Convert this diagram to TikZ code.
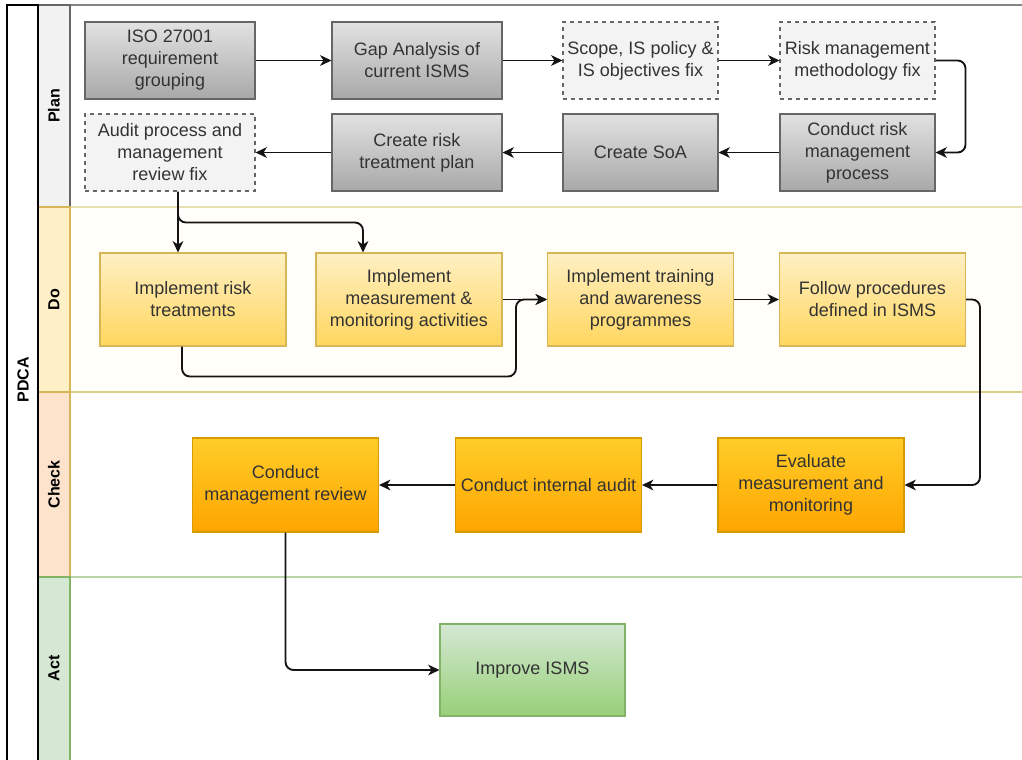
\documentclass[tikz,border=0pt]{standalone}
\usepackage{fontspec}
\setmainfont{Liberation Sans}
\usetikzlibrary{arrows.meta,calc}

\definecolor{txt}{HTML}{333333}
\definecolor{graytop}{HTML}{E2E2E2}
\definecolor{graybot}{HTML}{A8A8A8}
\definecolor{grayedge}{HTML}{666666}
\definecolor{dashfill}{HTML}{F3F3F3}
\definecolor{yeltop}{HTML}{FFF0C4}
\definecolor{yelbot}{HTML}{FFD65E}
\definecolor{yeledge}{HTML}{D6B656}
\definecolor{orgtop}{HTML}{FFCD28}
\definecolor{orgbot}{HTML}{FFA500}
\definecolor{orgedge}{HTML}{D79B00}
\definecolor{grntop}{HTML}{D5E8D4}
\definecolor{grnbot}{HTML}{97D077}
\definecolor{grnedge}{HTML}{82B366}
\definecolor{planlab}{HTML}{F2F2F2}
\definecolor{dolab}{HTML}{FFF0C8}
\definecolor{checklab}{HTML}{FDE2CC}
\definecolor{actlab}{HTML}{D5E8D4}
\definecolor{dobody}{HTML}{FFFEF9}
\definecolor{dosep}{HTML}{E6DFB4}
\definecolor{checksep}{HTML}{D8D08A}
\definecolor{actsep}{HTML}{B9D4A6}
\definecolor{wire}{HTML}{141414}

\begin{document}
\begin{tikzpicture}[x=0.75pt,y=-0.75pt,
  boxtext/.style={align=center, inner sep=0pt, text=txt,
    font=\fontsize{13.5pt}{16.5pt}\selectfont},
  graybox/.style={boxtext, draw=grayedge, line width=0.8pt,
    top color=graytop, bottom color=graybot,
    minimum width=127.5pt, minimum height=57.75pt},
  grayboxs/.style={graybox, minimum width=116.25pt},
  dashbox/.style={boxtext, draw=grayedge, line width=0.8pt, dashed,
    fill=dashfill, minimum width=116.25pt, minimum height=57.75pt},
  dashboxw/.style={dashbox, minimum width=127.5pt},
  yelbox/.style={boxtext, draw=yeledge, line width=0.8pt,
    top color=yeltop, bottom color=yelbot,
    minimum width=139.5pt, minimum height=69.75pt},
  orgbox/.style={boxtext, draw=orgedge, line width=0.8pt,
    top color=orgtop, bottom color=orgbot,
    minimum width=139.5pt, minimum height=70.5pt},
  grnbox/.style={boxtext, draw=grnedge, line width=0.8pt,
    top color=grntop, bottom color=grnbot,
    minimum width=138.75pt, minimum height=69pt},
  lanelabel/.style={rotate=90, font=\bfseries\fontsize{12pt}{14pt}\selectfont, text=black},
  arr/.style={draw=wire, line width=1.4pt,
    -{Stealth[length=8.5pt,width=8pt,inset=2.5pt]}},
]
\useasboundingbox (0,0) rectangle (1022,760);
\clip (0,0) rectangle (1022,760);

% ---- pool and lanes ----
\fill[white] (0,0) rectangle (1022,760);
\fill[dobody] (70,207) rectangle (1030,392);

\draw[dosep, line width=0.9pt] (70,207) -- (1030,207);
\draw[checksep, line width=0.9pt] (70,392) -- (1030,392);
\draw[actsep, line width=0.9pt] (70,577) -- (1030,577);
\draw[grayedge!80, line width=0.9pt] (38,5) -- (1030,5);

\draw[grayedge, line width=0.8pt, fill=planlab] (38,5) rectangle (70,207);
\draw[yeledge, line width=0.8pt, fill=dolab] (38,207) rectangle (70,392);
\draw[yeledge, line width=0.8pt, fill=checklab] (38,392) rectangle (70,577);
\draw[grnedge, line width=0.8pt, fill=actlab] (38,577) rectangle (70,770);
\draw[black, line width=0.9pt] (7,770) -- (7,5) -- (38,5) -- (38,770);

\node[lanelabel, font=\bfseries\fontsize{12pt}{14pt}\selectfont] (pdca) at (23,380) {PDCA};
\node[lanelabel] (lplan) at (54,106) {Plan};
\node[lanelabel] (ldo) at (54,299.5) {Do};
\node[lanelabel] (lcheck) at (54,484.5) {Check};
\node[lanelabel] (lact) at (54,668.5) {Act};

% ---- Plan ----
\node[graybox] (iso) at (170,60.5) {ISO 27001\\requirement\\grouping};
\node[graybox] (gap) at (417,60.5) {Gap Analysis of\\current ISMS};
\node[dashbox] (scope) at (640.5,60.5) {Scope, IS policy \&\\IS objectives fix};
\node[dashbox] (rmm) at (857.5,60.5) {Risk management\\methodology fix};
\node[dashboxw] (audit) at (170,152.5) {Audit process and\\management\\review fix};
\node[graybox] (rtp) at (417,152.5) {Create risk\\treatment plan};
\node[grayboxs] (soa) at (640.5,152.5) {Create SoA};
\node[grayboxs] (crm) at (857.5,152.5) {Conduct risk\\management\\process};

% ---- Do ----
\node[yelbox] (irt) at (193,299.5) {Implement risk\\treatments};
\node[yelbox] (imm) at (409,299.5) {Implement\\measurement \&\\monitoring activities};
\node[yelbox] (itr) at (640.5,299.5) {Implement training\\and awareness\\programmes};
\node[yelbox] (fol) at (872.5,299.5) {Follow procedures\\defined in ISMS};

% ---- Check ----
\node[orgbox] (cmr) at (285.5,485) {Conduct\\management review};
\node[orgbox] (cia) at (548.5,485) {Conduct internal audit};
\node[orgbox] (emm) at (811,485) {Evaluate\\measurement and\\monitoring};

% ---- Act ----
\node[grnbox] (imp) at (532.5,670) {Improve ISMS};

% ---- connectors ----
\draw[arr] (iso) -- (gap);
\draw[arr] (gap) -- (scope);
\draw[arr] (scope) -- (rmm);
\draw[arr, rounded corners=6pt] (rmm.east) -- ++(30,0) |- (crm.east);
\draw[arr] (crm) -- (soa);
\draw[arr] (soa) -- (rtp);
\draw[arr] (rtp) -- (audit);

\coordinate (afoot) at ([xshift=6pt]audit.south);
\draw[arr] (afoot) -- (afoot |- irt.north);
\draw[arr, rounded corners=6pt] (afoot) -- ++(0,31) -| ([xshift=-34.5pt]imm.north);

\draw[arr] (imm.east |- itr.west) -- (itr.west);
\draw[arr, rounded corners=6pt] ([xshift=-8.25pt]irt.south) -- ++(0,30)
  -| ($(itr.west)+(-31,0)$) -- (itr.west);
\draw[arr] (itr) -- (fol);
\draw[arr, rounded corners=6pt] (fol.east) -- ++(14,0) |- (emm.east);

\draw[arr] (emm) -- (cia);
\draw[arr] (cia) -- (cmr);
\draw[arr, rounded corners=6pt] (cmr.south) |- (imp.west);
\end{tikzpicture}
\end{document}
